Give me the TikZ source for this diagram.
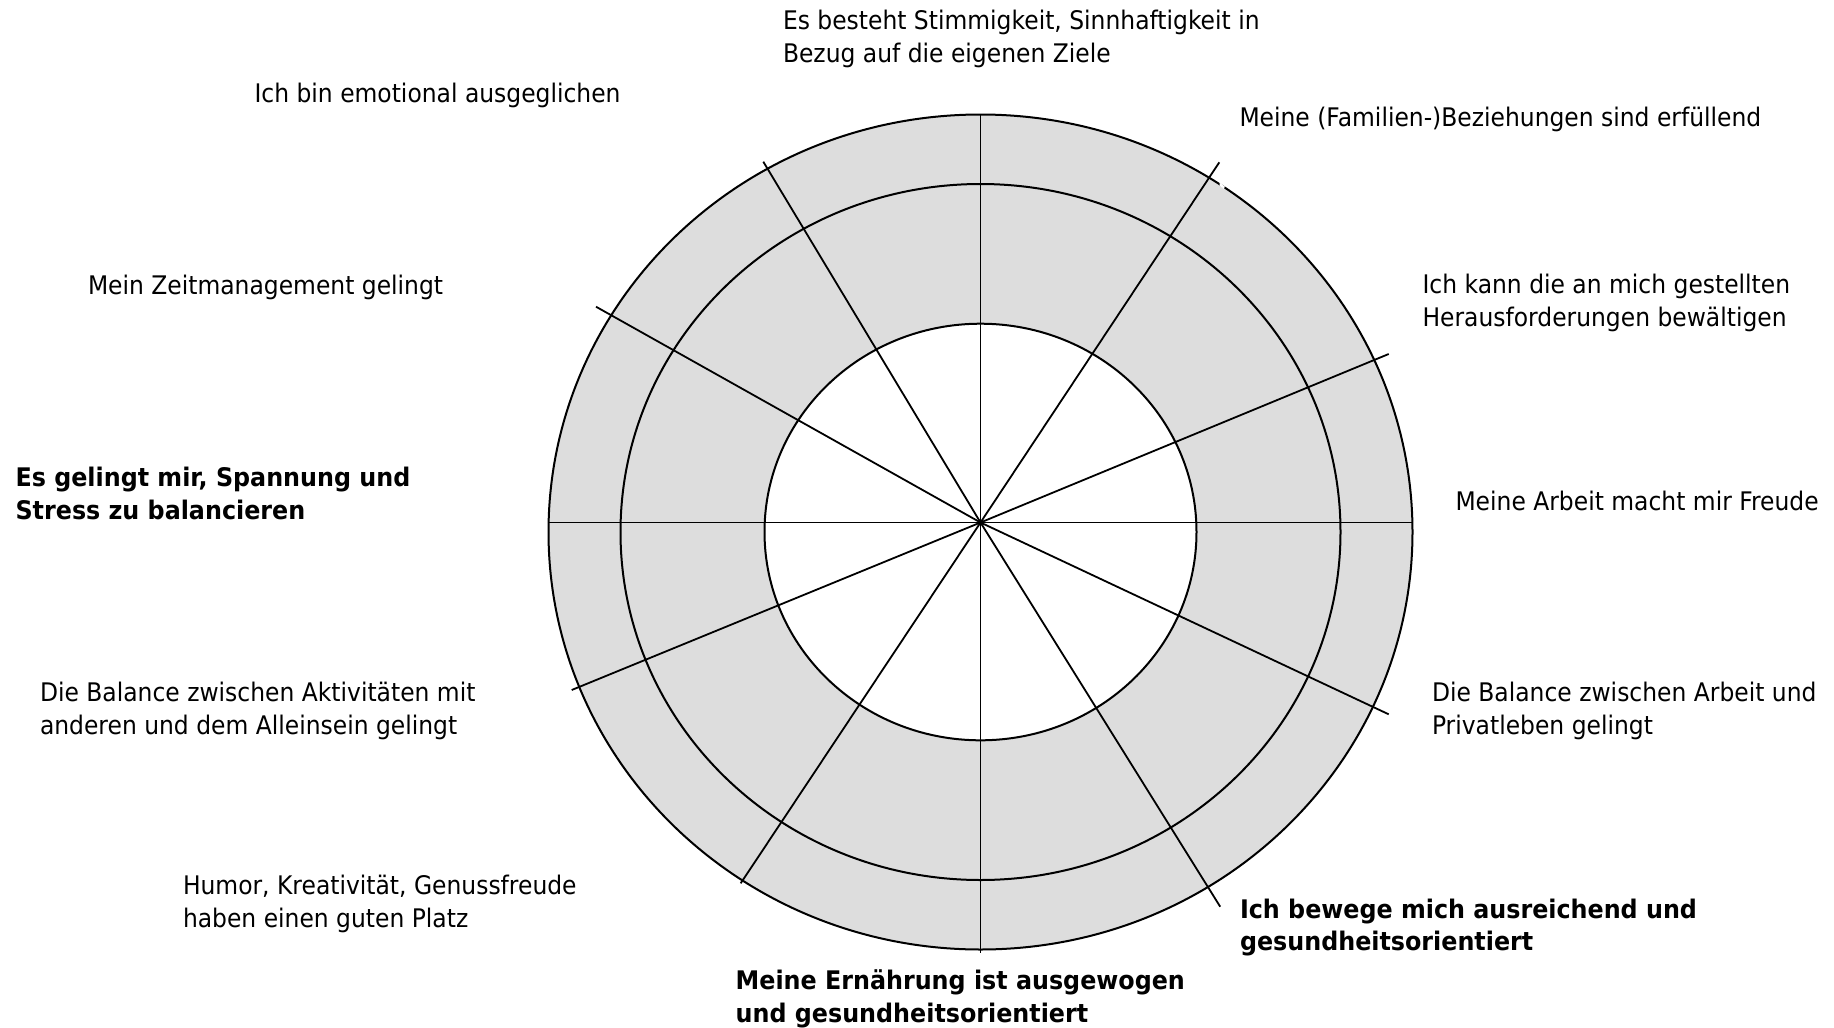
\documentclass[tikz,border=0pt]{standalone}
\usepackage{fontspec}
\setmainfont{DejaVu Sans}[UprightFeatures={FakeStretch=0.915}, BoldFeatures={FakeStretch=0.93}]
\definecolor{ringgray}{RGB}{221,221,221}
\begin{document}
\begin{tikzpicture}[x=1pt,y=-1pt,
  lbl/.style={anchor=base west, inner sep=0pt, outer sep=0pt, align=left, font=\fontsize{25.6}{32.7}\selectfont},
  lblb/.style={lbl, font=\fontsize{25.6}{32.7}\selectfont\bfseries},
  ring/.style={draw=black, line width=2pt},
  spoke/.style={draw=black, line width=1.8pt}]
\useasboundingbox (0,0) rectangle (1834,1028);
\fill[white] (0,0) rectangle (1834,1028);
% centres
\coordinate (c) at (980.5,532);
\coordinate (hub) at (980.5,522.5);
% fills
\fill[ringgray] (c) ellipse [x radius=432pt, y radius=417.5pt];
\fill[white] (c) ellipse [x radius=216pt, y radius=208.3pt];
% spoke ends
\coordinate (s1) at (980.5,114.3);
\coordinate (s2) at (1219.3,162.3);
\coordinate (s3) at (1388.7,354);
\coordinate (s4) at (1412.7,522.5);
\coordinate (s5) at (1388.7,714.3);
\coordinate (s6) at (1220.2,906.7);
\coordinate (s7) at (980.5,953.3);
\coordinate (s8) at (740.7,883.3);
\coordinate (s9) at (571.7,690);
\coordinate (s10) at (548.6,522.5);
\coordinate (s11) at (596,306.7);
\coordinate (s12) at (763.3,161.7);
\foreach \i in {1,...,12} {\draw[spoke] (hub) -- (s\i);}
% rings
\draw[ring] (c) ellipse [x radius=432pt, y radius=417.5pt];
\draw[ring] (c) ellipse [x radius=360pt, y radius=348pt];
\draw[ring] (c) ellipse [x radius=216pt, y radius=208.3pt];
% small white notch on the outer ring
\fill[white] (1219.5,182.5) -- (1224.8,186.5) -- (1223.8,189) -- (1219.5,185.5) -- cycle;
% labels (base anchor = baseline of the last line)
\node[lbl] (t1) at (783,62) {Es besteht Stimmigkeit, Sinnhaftigkeit in\\Bezug auf die eigenen Ziele};
\node[lbl] (t2) at (1239.5,126) {Meine (Familien-)Beziehungen sind erfüllend};
\node[lbl] (t3) at (1422.5,326.3) {Ich kann die an mich gestellten\\Herausforderungen bewältigen};
\node[lbl] (t4) at (1455.5,510) {Meine Arbeit macht mir Freude};
\node[lbl] (t5) at (1432,734.5) {Die Balance zwischen Arbeit und\\Privatleben gelingt};
\node[lblb] (t6) at (1240,950.9) {Ich bewege mich ausreichend und\\gesundheitsorientiert};
\node[lblb] (t7) at (735.7,1022) {Meine Ernährung ist ausgewogen\\und gesundheitsorientiert};
\node[lbl] (t8) at (183,927) {Humor, Kreativität, Genussfreude\\haben einen guten Platz};
\node[lbl] (t9) at (40,734.5) {Die Balance zwischen Aktivitäten mit\\anderen und dem Alleinsein gelingt};
\node[lblb] (t10) at (15.6,519.3) {Es gelingt mir, Spannung und\\Stress zu balancieren};
\node[lbl] (t11) at (88,294.5) {Mein Zeitmanagement gelingt};
\node[lbl] (t12) at (254.5,102) {Ich bin emotional ausgeglichen};
\end{tikzpicture}
\end{document}
